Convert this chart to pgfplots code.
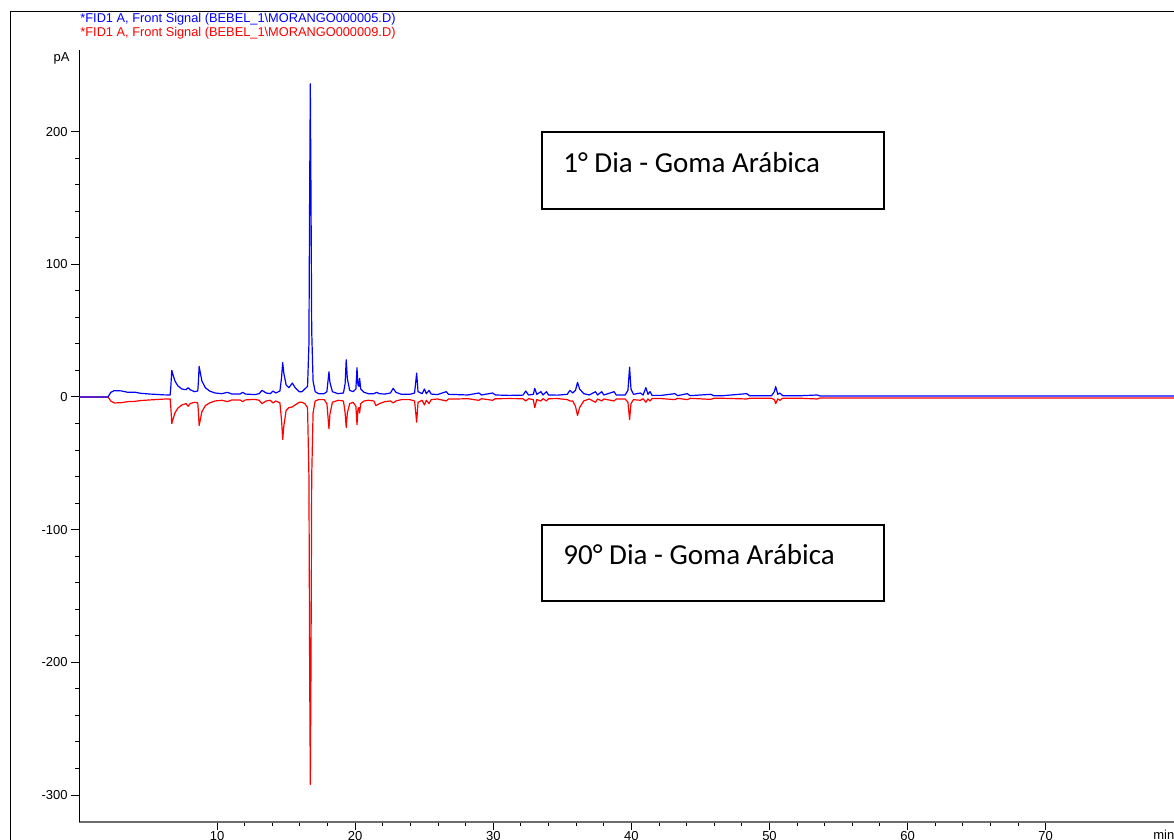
\documentclass[border=0pt]{standalone}
\usepackage{fontspec}
\setmainfont{Liberation Sans}
\newfontfamily\calibri{Carlito}
\usepackage{pgfplots}
\pgfplotsset{compat=1.18}
\definecolor{fidblue}{RGB}{0,0,255}
\definecolor{fidred}{RGB}{255,0,0}
\begin{document}
\begin{tikzpicture}
\useasboundingbox (0,0) rectangle (587pt,420pt);
% outer frame
\draw[black, line width=0.5pt] (5pt,-5pt) -- (5pt,414pt) -- (600pt,414pt);
\begin{axis}[
  at={(39.5pt,9pt)}, anchor=south west,
  scale only axis, width=552.4pt, height=386pt,
  xmin=0, xmax=80, ymin=-320.3, ymax=261.5,
  axis x line*=bottom, axis y line*=left,
  x axis line style={draw=gray!85!black, line width=1pt, -},
  y axis line style={draw=black, line width=0.5pt, -},
  xtick={10,20,...,70}, minor x tick num=4,
  ytick={-300,-200,...,200}, minor y tick num=4,
  tick align=outside,
  major tick length=4pt, minor tick length=2pt,
  tick style={black, line width=0.5pt},
  every tick label/.append style={font=\fontsize{6.5}{7}\selectfont},
  xticklabel style={anchor=north, inner sep=0pt, yshift=-0.5pt},
  yticklabel style={anchor=east, inner sep=0pt, xshift=-1.5pt},
  /pgf/number format/assume math mode=true,
  line join=round,
]
\addplot[fidred, line width=0.6pt] table {
0 0
2.10 0
2.30 -3
2.55 -4.5
3.05 -4.3
3.55 -3.5
4.05 -3.3
4.45 -2.7
5.15 -2.2
6.15 -1.6
6.60 -1.5
6.65 -8
6.72 -20
6.80 -17
6.95 -12
7.15 -8.5
7.45 -6
7.75 -5
7.90 -7
8.05 -5
8.35 -4
8.60 -4.5
8.65 -12
8.70 -21.5
8.77 -18
8.90 -11
9.15 -6.5
9.45 -4.5
9.85 -3
10.35 -2.5
10.75 -3.5
11.05 -2.3
11.65 -2.2
11.85 -3.5
12.05 -2.2
12.75 -1.8
13.05 -2.5
13.25 -5
13.55 -3
13.85 -2.5
14.05 -4.5
14.25 -3
14.55 -4.5
14.67 -18
14.75 -32
14.83 -22
15.00 -10
15.20 -8
15.45 -7.5
15.65 -6
15.95 -4
16.15 -4
16.35 -5
16.55 -8
16.65 -60
16.70 -200
16.75 -292
16.80 -200
16.85 -60
16.95 -12
17.10 -3
17.35 -2
17.75 -2
17.95 -5
18.03 -15
18.10 -24
18.17 -13
18.35 -4
18.75 -2.5
19.15 -3
19.27 -12
19.35 -23
19.43 -12
19.60 -5
19.85 -4
20.05 -7
20.13 -21
20.20 -9
20.27 -8
20.32 -12
20.40 -5
20.65 -3
20.95 -2.5
21.35 -3
21.50 -6.5
21.75 -5
22.15 -3.5
22.55 -3
22.75 -4.5
22.95 -3
23.35 -2
23.95 -2
24.30 -3
24.45 -19
24.55 -4
24.85 -2.5
25.01 -6
25.15 -2.5
25.35 -5
25.50 -2
25.95 -1.5
26.60 -3
26.75 -1.5
27.35 -1.5
28.15 -1.3
28.95 -2.5
29.15 -1.3
29.95 -2.5
30.15 -1.3
31.15 -1.2
32.15 -1.3
32.35 -3
32.55 -1.3
32.90 -2
33.00 -8
33.15 -2
33.45 -3
33.60 -1.3
33.85 -3
34.00 -1.3
34.65 -1.2
35.35 -2
35.55 -3
35.75 -3
35.95 -7
36.10 -14
36.25 -8
36.55 -3
36.95 -1.5
37.40 -4
37.55 -1.5
37.85 -3
38.00 -1.5
38.75 -3
38.90 -1.5
39.55 -1.5
39.75 -4
39.87 -17
39.97 -5
40.15 -2
40.65 -2.5
40.85 -1.3
41.05 -4
41.20 -1.5
41.35 -3
41.50 -1.2
42.15 -1.2
43.15 -2
43.35 -1
44.05 -2
44.25 -1
45.75 -1.8
45.95 -1
46.65 -1
48.35 -1.5
48.55 -1
50.15 -1
50.35 -2
50.45 -5
50.60 -1.5
50.75 -2.5
50.95 -1
52.15 -0.9
53.45 -1.5
53.65 -0.8
55.15 -0.8
80 -0.8
};
\addplot[fidblue, line width=0.6pt] table {
0 0
2.10 0
2.30 3.5
2.55 4.8
3.05 4.6
3.55 3.5
4.05 3.6
4.45 2.8
5.15 2.2
6.15 1.6
6.60 1.5
6.65 8
6.72 20
6.80 17
6.95 12
7.15 8.5
7.45 6
7.75 5.5
7.90 7
8.05 5.5
8.35 4
8.60 4.5
8.65 12
8.70 23
8.77 19
8.90 12
9.15 7
9.45 4.5
9.85 3
10.35 2.5
10.75 3.5
11.05 2.3
11.65 2.2
11.85 3.5
12.05 2.2
12.75 1.8
13.05 2.5
13.25 5
13.55 3
13.85 2.5
14.05 4.5
14.25 3
14.55 4.5
14.67 15
14.75 26
14.83 18
15.00 9
15.20 7
15.45 10.5
15.65 7
15.95 4
16.15 4
16.35 6
16.55 8
16.65 40
16.70 150
16.75 236
16.80 150
16.85 50
16.95 12
17.10 4
17.35 2.5
17.75 2.5
17.95 4
18.03 12
18.10 19
18.17 11
18.35 4
18.75 2.5
19.15 3
19.27 10
19.35 28
19.43 14
19.60 5
19.85 4
20.05 6
20.13 22
20.20 9
20.27 8
20.32 14
20.40 6
20.65 3.5
20.95 2.5
21.35 2.5
21.55 3.5
21.75 2.5
22.15 2.2
22.55 3
22.75 6.5
22.95 3.5
23.35 2
23.95 2
24.30 3
24.45 18
24.55 4
24.85 2.5
25.01 6
25.15 2.5
25.35 5
25.50 2.2
25.95 1.8
26.60 4
26.75 2
27.35 1.8
28.15 1.5
28.95 3
29.15 1.5
29.95 3
30.15 1.5
31.15 1.2
32.15 1.4
32.35 4.5
32.55 1.5
32.90 2
33.00 6.5
33.15 2
33.45 4
33.60 1.5
33.85 4
34.00 1.5
34.65 1.4
35.35 2
35.55 5
35.75 3
35.95 5
36.10 11
36.25 6
36.55 2.5
36.95 1.5
37.40 4
37.55 1.5
37.85 4
38.00 1.5
38.75 4
38.90 1.5
39.55 1.5
39.75 5
39.87 22.5
39.97 6
40.15 2
40.65 3
40.85 1.5
41.05 7
41.20 2
41.35 4
41.50 1.2
42.15 1.2
43.15 2.5
43.35 1.0
44.05 2.5
44.25 1.0
45.75 2
45.95 1
46.65 1
48.35 2.5
48.55 1
50.15 1
50.35 4
50.45 7.8
50.60 2
50.75 3
50.95 1
52.15 0.9
53.45 1.5
53.65 0.8
55.15 0.7
80 0.7
};
\end{axis}
% titles
\node[anchor=west, inner sep=0pt, text=fidblue, font=\fontsize{6.4}{7}\selectfont] at (40pt,410.25pt) {*FID1 A, Front Signal (BEBEL\_1\textbackslash MORANGO000005.D)};
\node[anchor=west, inner sep=0pt, text=fidred, font=\fontsize{6.4}{7}\selectfont] at (40pt,403.25pt) {*FID1 A, Front Signal (BEBEL\_1\textbackslash MORANGO000009.D)};
\node[inner sep=0pt, font=\fontsize{6.5}{7}\selectfont] at (30.75pt,391pt) {pA};
\node[anchor=west, inner sep=0pt, font=\fontsize{6.5}{7}\selectfont] at (576.5pt,2.5pt) {min};
% annotation boxes
\draw[black, line width=0.6pt] (271pt,315.5pt) rectangle (442pt,354pt);
\node[anchor=west, inner sep=0pt, font=\calibri\fontsize{14.5}{17}\selectfont] at (281.5pt,338.5pt) {1° Dia - Goma Arábica};
\draw[black, line width=0.6pt] (271pt,119.5pt) rectangle (442pt,157.5pt);
\node[anchor=west, inner sep=0pt, font=\calibri\fontsize{14.5}{17}\selectfont] at (281.5pt,142.5pt) {90° Dia - Goma Arábica};
\end{tikzpicture}
\end{document}
